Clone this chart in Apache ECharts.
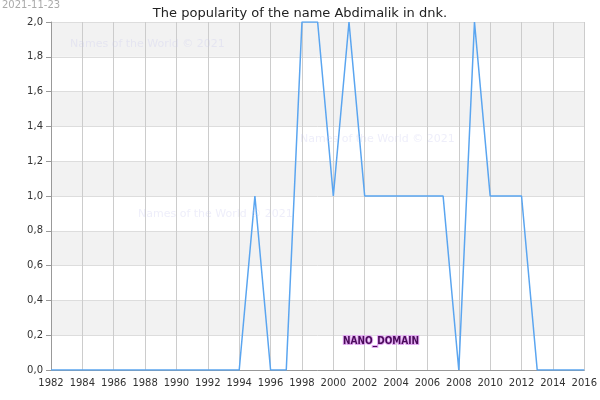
<!DOCTYPE html>
<html>
<head>
<meta charset="utf-8">
<script src="https://cdn.jsdelivr.net/npm/echarts@6/dist/echarts.min.js"></script>
<style>body{margin:0}#chart{width:600px;height:400px}</style>
</head>
<body>
<div id="chart"></div>
<script>
// 年份和数值
var years = [1982,1983,1984,1985,1986,1987,1988,1989,1990,1991,1992,1993,1994,1995,1996,1997,1998,1999,2000,2001,2002,2003,2004,2005,2006,2007,2008,2009,2010,2011,2012,2013,2014,2015,2016];
var counts = [0,0,0,0,0,0,0,0,0,0,0,0,0,1,0,0,2,2,1,2,1,1,1,1,1,1,0,2,1,1,1,0,0,0,0];
var title = 'The popularity of the name Abdimalik in dnk.';

var chart = echarts.init(document.getElementById('chart'));
var wm = 'rgba(200,200,240,0.3)';
chart.setOption({
    animation: false,
    title: {text: title, left: 'center', top: 2, textStyle: {fontFamily: 'DejaVu Sans', fontSize: 13, fontWeight: 'normal', color: '#222'}},
    graphic: [
        {type: 'text', z: 100, left: 2, top: 0, style: {text: '2021-11-23', fill: '#aaa', font: '10px DejaVu Sans'}},
        {type: 'text', z: 100, left: 70, top: 39, style: {text: 'Names of the World © 2021', fill: wm, font: '11px DejaVu Sans'}},
        {type: 'text', z: 100, left: 300, top: 134, style: {text: 'Names of the World © 2021', fill: wm, font: '11px DejaVu Sans'}},
        {type: 'text', z: 100, left: 138, top: 209, style: {text: 'Names of the World © 2021', fill: wm, font: '11px DejaVu Sans'}},
        {type: 'text', z: 100, left: 342, top: 335, style: {text: 'NANO_DOMAIN', fill: '#4a0a5a', stroke: '#e0a8f0', lineWidth: 2, font: 'bold 10px DejaVu Sans Condensed'}}
    ],
    grid: {left: 51, right: 15, top: 22, bottom: 30},
    xAxis: {
        type: 'value', min: 1982, max: 2016, interval: 2,
        axisLabel: {fontFamily: 'DejaVu Sans', fontSize: 10, color: '#333', formatter: function (v) { return v; }},
        axisLine: {lineStyle: {color: '#999'}},
        axisTick: {show: false},
        splitLine: {lineStyle: {color: '#ccc'}}
    },
    yAxis: {
        type: 'value', min: 0, max: 2, interval: 0.2,
        axisLabel: {fontFamily: 'DejaVu Sans', fontSize: 10, color: '#333', formatter: function (v) { return v.toFixed(1).replace('.', ','); }},
        axisLine: {show: true, lineStyle: {color: '#999'}},
        splitLine: {lineStyle: {color: '#ddd'}},
        splitArea: {show: true, areaStyle: {color: ['#ffffff', '#f2f2f2']}}
    },
    series: [{
        type: 'line',
        data: years.map(function (y, i) { return [y, counts[i]]; }),
        showSymbol: false,
        lineStyle: {color: '#5aa5f0', width: 1.5}
    }]
});
</script>
</body>
</html>
